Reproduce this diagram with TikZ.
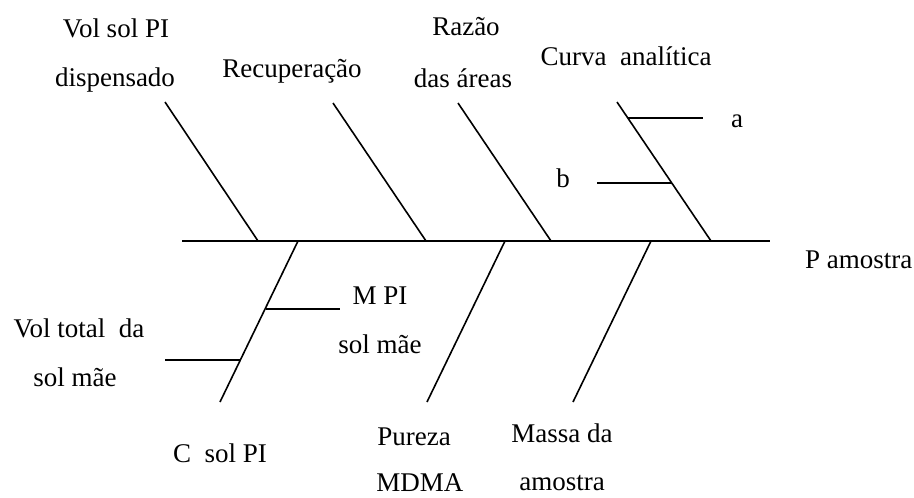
\documentclass[tikz,border=0pt]{standalone}
\usepackage{fontspec}
\setmainfont{Liberation Serif}
\begin{document}
\begin{tikzpicture}[x=1pt,y=-1pt,
  bone/.style={line width=1.6pt},
  lbl/.style={anchor=base,inner sep=0pt,font=\fontsize{27}{30}\selectfont}]
\useasboundingbox (0,0) rectangle (914,498);
% spine
\coordinate (sL) at (182,241);
\coordinate (sR) at (770,241);
\draw[bone] (sL) -- (sR);
% upper bones
\coordinate (u1a) at (165,102); \coordinate (u1b) at (258,241);
\coordinate (u2a) at (333,103); \coordinate (u2b) at (426,241);
\coordinate (u3a) at (458,103); \coordinate (u3b) at (551,241);
\coordinate (u4a) at (617,102); \coordinate (u4b) at (711,241);
\draw[bone] (u1a) -- (u1b);
\draw[bone] (u2a) -- (u2b);
\draw[bone] (u3a) -- (u3b);
\draw[bone] (u4a) -- (u4b);
\coordinate (aA) at (628,118); \coordinate (aB) at (703,118);
\coordinate (bA) at (597,183); \coordinate (bB) at (672,183);
\draw[bone] (aA) -- (aB);
\draw[bone] (bA) -- (bB);
% lower bones
\coordinate (d1a) at (298,241); \coordinate (d1b) at (220,402);
\coordinate (d2a) at (505,241); \coordinate (d2b) at (427,402);
\coordinate (d3a) at (651,241); \coordinate (d3b) at (573,402);
\draw[bone] (d1a) -- (d1b);
\draw[bone] (d2a) -- (d2b);
\draw[bone] (d3a) -- (d3b);
\coordinate (mA) at (266,309); \coordinate (mB) at (340,309);
\coordinate (vA) at (165,360); \coordinate (vB) at (241,360);
\draw[bone] (mA) -- (mB);
\draw[bone] (vA) -- (vB);
% labels
\node[lbl] (t1a) at (116,37) {Vol sol PI};
\node[lbl] (t1b) at (115,86) {dispensado};
\node[lbl] (t2) at (292,77) {Recuperação};
\node[lbl] (t3a) at (466,35) {Razão};
\node[lbl] (t3b) at (463,87) {das áreas};
\node[lbl] (t4) at (626,65) {Curva~ analítica};
\node[lbl] (ta) at (737,127) {a};
\node[lbl] (tb) at (563,187) {b};
\node[lbl,anchor=base west] (tp) at (805,268) {P amostra};
\node[lbl] (tm1) at (380,304) {M PI};
\node[lbl] (tm2) at (380,353) {sol mãe};
\node[lbl] (tv1) at (79,337) {Vol total~ da};
\node[lbl] (tv2) at (75,386) {sol mãe};
\node[lbl] (tc) at (220,462) {C~ sol PI};
\node[lbl] (tpu1) at (414,445) {Pureza};
\node[lbl] (tpu2) at (420,491) {MDMA};
\node[lbl] (tma1) at (562,442) {Massa da};
\node[lbl] (tma2) at (562,490) {amostra};
\end{tikzpicture}
\end{document}
